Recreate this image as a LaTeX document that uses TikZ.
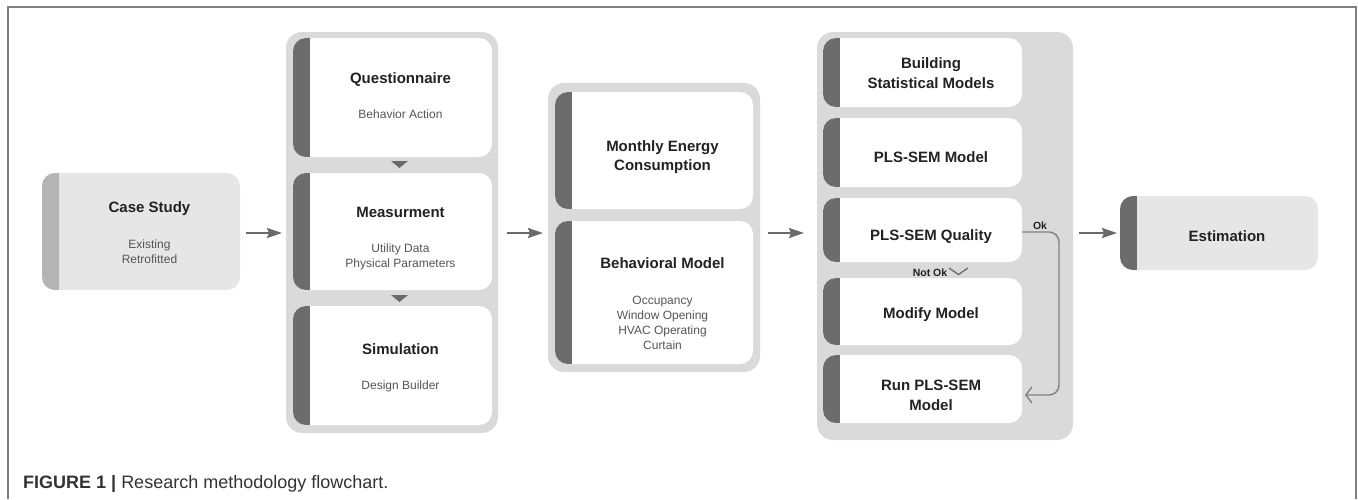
\documentclass[tikz,border=0pt]{standalone}
\usepackage{fontspec}
\setmainfont{Liberation Sans}
\usetikzlibrary{arrows.meta,calc}
\definecolor{contbg}{HTML}{DADADA}
\definecolor{lightbg}{HTML}{E6E6E6}
\definecolor{stripdark}{HTML}{6C6C6C}
\definecolor{striplight}{HTML}{B4B4B4}
\definecolor{titlec}{HTML}{222222}
\definecolor{subc}{HTML}{555555}
\definecolor{arrc}{HTML}{6A6A6A}
\definecolor{framec}{HTML}{808080}
\definecolor{capc}{HTML}{333333}
\tikzset{
  container/.style={fill=contbg, rounded corners=16pt, draw=none, inner sep=0pt, outer sep=0pt},
  stripbox/.style={fill=#1, rounded corners=13pt, draw=none, inner sep=0pt, outer sep=0pt},
  darkstrip/.style={path picture={\fill[stripdark, sharp corners] (path picture bounding box.north west) rectangle ([xshift=16.5pt]path picture bounding box.south west);}},
  lightstrip/.style={path picture={\fill[striplight, sharp corners] (path picture bounding box.north west) rectangle ([xshift=16.5pt]path picture bounding box.south west);}},
  title/.style={font=\fontsize{15}{19}\selectfont\bfseries, text=titlec, anchor=base, inner sep=0pt},
  sub/.style={font=\fontsize{12}{15}\selectfont, text=subc, anchor=base, inner sep=0pt},
  small/.style={font=\fontsize{10.5}{13}\selectfont\bfseries, text=titlec, anchor=base, inner sep=0pt},
  arr/.style={draw=arrc, line width=2pt, -{Stealth[length=15pt,width=10pt,inset=2pt]}},
  okline/.style={draw=arrc!85, line width=1.4pt, rounded corners=10pt, -{Straight Barb[length=6pt,width=16pt,line width=1.4pt]}},
}
\begin{document}
\begin{tikzpicture}[x=1pt,y=-1pt]
\useasboundingbox (0,0) rectangle (1358,499);
% frame
\draw[framec, line width=1.3pt] (8,499) -- (8,7) -- (1356,7) -- (1356,499);

% case study
\node[stripbox=lightbg, lightstrip, minimum width=198pt, minimum height=117pt] (cs) at (141,231.5) {};
\node[title] (tcs) at (149.5,212) {Case Study};
\node[sub] (tcs1) at (149.5,248) {Existing};
\node[sub] (tcs2) at (149.5,263) {Retrofitted};

% column 2
\node[container, minimum width=212pt, minimum height=401pt] (c2) at (392,232.5) {};
\node[stripbox=white, darkstrip, minimum width=199pt, minimum height=119pt] (q) at (392.5,97.5) {};
\node[stripbox=white, darkstrip, minimum width=199pt, minimum height=117pt] (m) at (392.5,231.5) {};
\node[stripbox=white, darkstrip, minimum width=199pt, minimum height=119pt] (s) at (392.5,365.5) {};
\node[title] (tq) at (400.5,83) {Questionnaire};
\node[sub] (tq1) at (400.5,118) {Behavior Action};
\node[title] (tm) at (400.5,217) {Measurment};
\node[sub] (tm1) at (400.5,252) {Utility Data};
\node[sub] (tm2) at (400.5,267) {Physical Parameters};
\node[title] (ts) at (400.5,354) {Simulation};
\node[sub] (ts1) at (400.5,389) {Design Builder};
\fill[arrc] (391,161) -- (408,161) -- (399.5,168) -- cycle;
\fill[arrc] (391,295) -- (408,295) -- (399.5,302) -- cycle;

% column 3
\node[container, minimum width=212pt, minimum height=289pt] (c3) at (654,227.5) {};
\node[stripbox=white, darkstrip, minimum width=198pt, minimum height=117pt] (me) at (654,150.5) {};
\node[stripbox=white, darkstrip, minimum width=198pt, minimum height=143pt] (bm) at (654,292.5) {};
\node[title] (tme1) at (662.5,151) {Monthly Energy};
\node[title] (tme2) at (662.5,170) {Consumption};
\node[title] (tbm) at (662.5,268) {Behavioral Model};
\node[sub] (tbm1) at (662.5,304) {Occupancy};
\node[sub] (tbm2) at (662.5,319) {Window Opening};
\node[sub] (tbm3) at (662.5,334) {HVAC Operating};
\node[sub] (tbm4) at (662.5,349) {Curtain};

% column 4
\node[container, minimum width=256pt, minimum height=408pt] (c4) at (945,236) {};
\node[stripbox=white, darkstrip, minimum width=199pt, minimum height=69pt] (b) at (922.5,72.5) {};
\node[stripbox=white, darkstrip, minimum width=199pt, minimum height=69pt] (p) at (922.5,152.5) {};
\node[stripbox=white, darkstrip, minimum width=199pt, minimum height=64pt] (pq) at (922.5,230) {};
\node[stripbox=white, darkstrip, minimum width=199pt, minimum height=67pt] (mm) at (922.5,311.5) {};
\node[stripbox=white, darkstrip, minimum width=199pt, minimum height=68pt] (r) at (922.5,389) {};
\node[title] (tb1) at (931,68) {Building};
\node[title] (tb2) at (931,88) {Statistical Models};
\node[title] (tp) at (931,162) {PLS-SEM Model};
\node[title] (tpq) at (931,240) {PLS-SEM Quality};
\node[title] (tmm) at (931,318) {Modify Model};
\node[title] (tr1) at (931,390) {Run PLS-SEM};
\node[title] (tr2) at (931,410) {Model};
\node[small] (tok) at (1040,229) {Ok};
\node[small] (tnok) at (930,276) {Not Ok};
\draw[arrc, line width=1.3pt, line join=round] (949,268) -- (958.5,274.5) -- (968,268);
\draw[okline] ([yshift=-2pt]pq.east) -- (1059,232) -- (1059,395) -- ([xshift=3pt,yshift=-6pt]r.east);

% estimation
\node[stripbox=lightbg, darkstrip, minimum width=198pt, minimum height=74pt] (est) at (1219,233) {};
\node[title] (test) at (1227,241) {Estimation};

% main arrows
\coordinate (ay) at (0,233);
\draw[arr] ($(cs.east|-ay)+(6,0)$) -- ($(c2.west|-ay)+(-4,0)$);
\draw[arr] ($(c2.east|-ay)+(9,0)$) -- ($(c3.west|-ay)+(-5,0)$);
\draw[arr] ($(c3.east|-ay)+(8,0)$) -- ($(c4.west|-ay)+(-13,0)$);
\draw[arr] ($(c4.east|-ay)+(6,0)$) -- ($(est.west|-ay)+(-3,0)$);

% caption
\node[anchor=base west, inner sep=0pt, text=capc, font=\fontsize{18}{22}\selectfont] (cap) at (23,488) {\textbf{FIGURE 1 |} Research methodology flowchart.};
\end{tikzpicture}
\end{document}
